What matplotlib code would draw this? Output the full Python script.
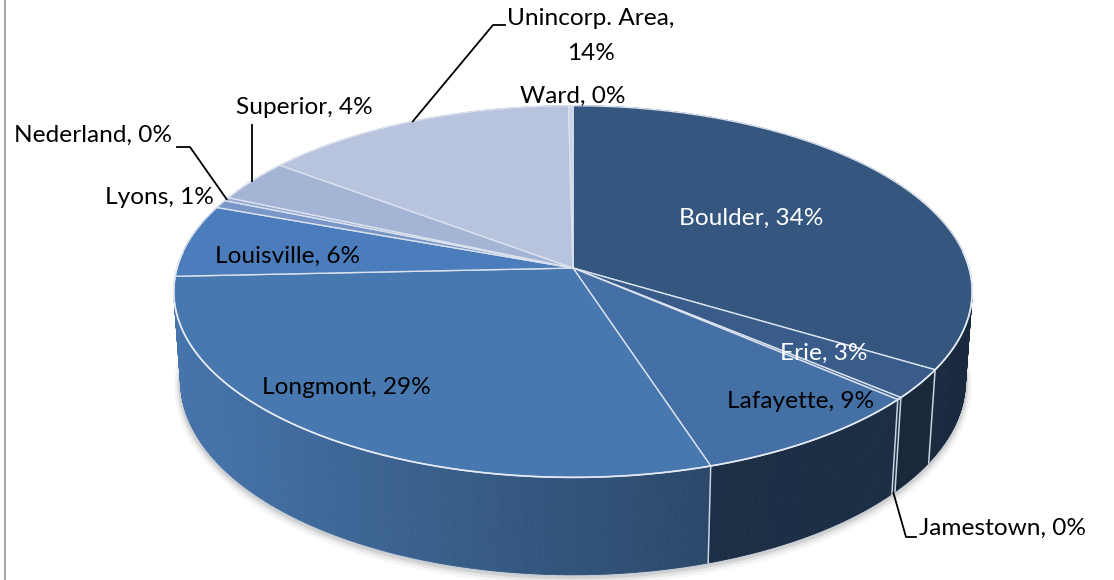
import numpy as np
import matplotlib
matplotlib.use("Agg")
import matplotlib.pyplot as plt
from matplotlib.collections import PolyCollection
from matplotlib.patches import Polygon
from matplotlib.colors import to_rgb

# ---------------- data ----------------
categories = ["Boulder", "Erie", "Jamestown", "Lafayette", "Longmont", "Louisville",
              "Lyons", "Nederland", "Superior", "Unincorp. Area", "Ward"]
shares = [33.55, 2.55, 0.2, 8.55, 29.1, 6.3, 0.7, 0.3, 3.7, 14.4, 0.2]

# ---------------- style ----------------
top_colors = ["#34567f", "#395c8a", "#3e6596", "#4470a6", "#4878b0", "#4b7cbb",
              "#7896c8", "#93a8d3", "#a4b4d4", "#b8c4de", "#c9d3e7"]
# side-wall shading factor at left edge / right edge of the pie
side_shade = [(0.56, 0.49), (0.45, 0.42), (0.45, 0.42), (0.46, 0.40), (0.97, 0.42),
              (0.97, 0.45), (0.9, 0.5), (0.9, 0.5), (0.9, 0.5), (0.9, 0.5), (0.9, 0.5)]
text_colors = ["white", "white", "black", "black", "black", "black",
               "black", "black", "black", "black", "black"]
# label layout (pixel positions, alignment)
label_pos = [(751, 218, "center"), (824, 353, "center"), (919, 528, "left"),
             (801, 402, "center"), (346, 387, "center"), (288, 256, "center"),
             (214, 197, "right"), (172, 135, "right"), (304, 108, "center"),
             (591, 36, "center"), (573, 96, "center")]
# leader lines: elbow points from wedge rim to label
leaders = {2: [(906, 537), (916, 537)],
           7: [(190, 147), (177, 147)],
           8: [(None, 125)],
           9: [(493, 25), (505, 25)]}

W, H_PX = 1114, 580
plt.rcParams["font.family"] = ["Lato", "DejaVu Sans"]

fig = plt.figure(figsize=(W / 100, H_PX / 100), dpi=100)
ax = fig.add_axes([0, 0, 1, 1])
ax.set_xlim(0, W)
ax.set_ylim(H_PX, 0)
ax.axis("off")

# ---------------- perspective projection of a tilted disc ----------------
CX, CY, S = 573, 268, 396
D = 7.0
ALPHA = np.radians(27.5)
DEPTH = 0.257


def proj(phi_deg, level=0.0):
    p = np.radians(phi_deg)
    u, w = np.cos(p), np.sin(p)
    c, s = np.cos(ALPHA), np.sin(ALPHA)
    dep = D + w * c - level * s
    X = u * D / dep
    Y = (level * c + w * s) * D / dep
    return CX + S * X, CY - S * Y


total = float(sum(shares))
cum = np.concatenate([[0.0], np.cumsum(shares)])
starts = 90 - 360 * cum[:-1] / total
ends = 90 - 360 * cum[1:] / total

# ---------------- shadow under the pie ----------------
phis = np.linspace(-190, 10, 300)
bx, by = proj(phis, -DEPTH)
for lw, a, off in [(9, 0.06, 4), (6, 0.10, 3), (3.5, 0.18, 2)]:
    ax.plot(bx, by + off, color="#707070", lw=lw, alpha=a, solid_capstyle="round", zorder=1)
ax.plot(bx, by + 0.8, color="#c5ccd6", lw=1.4, zorder=1.5)

# ---------------- side walls ----------------
quads, cols, depths = [], [], []
for i in range(len(shares)):
    a0, a1 = starts[i], ends[i]
    n = max(2, int(abs(a0 - a1) / 0.5))
    angs = np.linspace(a0, a1, n + 1)
    base = np.array(to_rgb(top_colors[i]))
    kl, kr = side_shade[i]
    for j in range(n):
        pa, pb = angs[j], angs[j + 1]
        t1 = proj(pa, 0); t2 = proj(pb, 0)
        b2 = proj(pb, -DEPTH); b1 = proj(pa, -DEPTH)
        quads.append([t1, t2, b2, b1])
        xm = (t1[0] + t2[0]) / 2
        t = np.clip((xm - 176) / (972 - 176), 0, 1)
        k = kl + (kr - kl) * t
        cols.append(np.clip(base * k, 0, 1))
        depths.append(np.sin(np.radians((pa + pb) / 2)))
order = np.argsort(depths)[::-1]
pc = PolyCollection([quads[o] for o in order], facecolors=[cols[o] for o in order],
                    edgecolors=[cols[o] for o in order], linewidths=0.6, zorder=2)
ax.add_collection(pc)

# boundaries on visible side wall
for a in np.concatenate([starts, [ends[-1]]]):
    aa = ((a + 180) % 360) - 180
    if -168 < aa < -5:
        x0, y0 = proj(aa, 0)
        x1, y1 = proj(aa, -DEPTH)
        ax.plot([x0, x1], [y0, y1], color="#c9d3e2", lw=1.1, zorder=3)

# ---------------- top faces ----------------
for i in range(len(shares)):
    angs = np.linspace(starts[i], ends[i], max(3, int(abs(starts[i] - ends[i]) * 2)))
    ax_, ay_ = proj(angs, 0)
    pts = [(CX, CY)] + list(zip(ax_, ay_))
    ax.add_patch(Polygon(pts, closed=True, facecolor=top_colors[i],
                         edgecolor="#dbe2ee", lw=1.0, joinstyle="round", zorder=4))

# front rim highlight
rx, ry = proj(np.linspace(-185, 5, 300), 0)
ax.plot(rx, ry, color="#e4e9f2", lw=1.2, zorder=5)

# ---------------- labels ----------------
FS = 17.6
for i, name in enumerate(categories):
    pct = f"{round(shares[i] / total * 100)}%"
    txt = f"{name}, {pct}" if i != 9 else f"{name},\n{pct}"
    x, y, ha = label_pos[i]
    ax.text(x, y, txt, ha=ha, va="center", fontsize=FS, color=text_colors[i],
            multialignment="center", linespacing=1.8, zorder=6)

# leader lines from the wedge rim to labels
for i, pts in leaders.items():
    mid = (starts[i] + ends[i]) / 2
    lvl = -DEPTH if i == 2 else 0.0
    x0, y0 = proj(mid, lvl)
    xs, ys = [x0], [y0]
    for (px, py) in pts:
        xs.append(x0 if px is None else px)
        ys.append(py)
    ax.plot(xs, ys, color="black", lw=1.3, zorder=6)

# left frame edge
ax.plot([4.5, 4.5], [0, H_PX], color="#a6a6a6", lw=1.5, zorder=0)

fig.savefig("out.png", dpi=100)
